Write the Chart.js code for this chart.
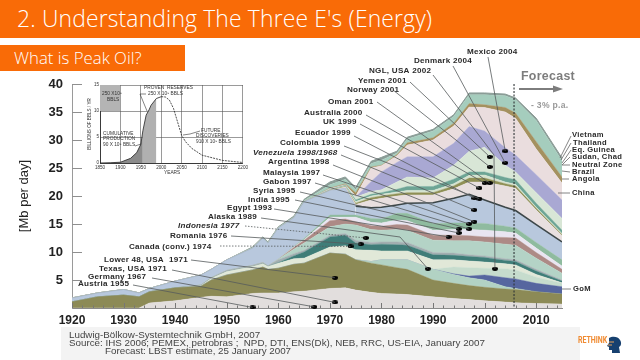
<!DOCTYPE html>
<html><head><meta charset="utf-8">
<script src="https://cdn.jsdelivr.net/npm/chart.js@4"></script>
<style>
html,body{margin:0;padding:0;background:#fff;width:640px;height:360px;overflow:hidden}
#page{position:relative;width:640px;height:360px;overflow:hidden}
.bar{position:absolute;left:0;background:#f96b07;color:#fff;font-family:"Open Sans",sans-serif;font-weight:300;white-space:nowrap}
#t1{top:0;width:640px;height:38px;line-height:37px;font-size:22.9px;padding-left:17px;box-sizing:border-box;letter-spacing:.15px}
#t2{top:45px;width:185px;height:26px;line-height:25px;font-size:16.8px;padding-left:14px;box-sizing:border-box}
#foot{position:absolute;left:61px;top:327px;width:519px;height:33px;background:#f3f3f3}
.f{position:absolute;font:9.8px "Liberation Sans",sans-serif;color:#444;white-space:pre}
canvas{position:absolute;left:0;top:0;filter:blur(.35px)}
#logo{position:absolute;left:578px;top:335px;font:bold 9px "Roboto",sans-serif;color:#f08a30;transform:scaleX(.78);transform-origin:0 0}
#head{position:absolute;left:606px;top:336px}
</style></head><body><div id="page">
<div id="foot"></div>
<canvas id="main" width="640" height="360"></canvas>
<canvas id="inset" width="165" height="102" style="left:85px;top:78px"></canvas>
<div class="bar" id="t1">2. Understanding The Three E's (Energy)</div>
<div class="bar" id="t2">What is Peak Oil?</div>
<div class="f" style="left:69px;top:329px">Ludwig-Bölkow-Systemtechnik GmbH, 2007</div>
<div class="f" style="left:69px;top:337px">Source: IHS 2006; PEMEX, petrobras ;  NPD, DTI, ENS(Dk), NEB, RRC, US-EIA, January 2007</div>
<div class="f" style="left:105px;top:345px">Forecast: LBST estimate, 25 January 2007</div>
<div id="logo">RETHINK</div>
<svg id="head" width="18" height="18" viewBox="0 0 18 18"><path d="M3 2 C6 0 12 0 14 4 C16 7 15 10 13 11 L14 17 L6 17 L6 14 L3 14 L3 11 L1 10 L3 7 Z" fill="#17406f"/><path d="M3 6 H8 M2 9 H6" stroke="#e8a15a" stroke-width="1"/></svg>
<script>
// ---------- main chart data (Mb per day, upper edge of each band) ----------
const years = [1920,1925,1930,1933,1935,1940,1945,1947,1950,1955,1957,1958,1960,1963,1965,1970,1973,1975,1978,1980,1983,1985,1990,1994,1997,2000,2004,2006,2010,2015];
const bandGrey     = [0,0,0,0,.9,1.3,1.9,2.1,2,2.6,2.7,2.7,2.7,2.9,3,3.5,3.6,3.2,2.8,2.6,2.5,2.4,2,1.7,1.5,1.3,1.05,.95,.8,.7];
const bandOlive    = [1.1,2,2.3,2,2.9,3.6,3.9,5,5.9,6.8,7.3,6.9,7.1,7.8,8,9.8,9.6,8.6,8,7.7,7.2,6.9,5,4.4,4,3.7,3.4,3.3,2.9,2.5];
const bandSeafoam  = [1.1,2,2.3,2,2.9,3.6,3.9,5,5.9,6.8,7.3,6.9,7.1,7.8,8,9.8,9.6,8.6,8.3,8.6,8.6,8.6,6.9,6,5.4,5,3.8,3.5,2.9,2.5];
const bandGoM      = [1.1,2,2.3,2,2.9,3.6,3.9,5,5.9,6.8,7.3,6.9,7.1,7.8,8,9.8,9.6,8.6,8.3,8.6,8.6,8.6,6.9,6.1,5.7,5.9,5.4,5.2,4.4,3.8];
const bandAboveGoM = [1.1,2,2.3,2,2.9,3.6,3.9,5,5.9,6.8,7.3,6.9,7.1,7.8,8,9.8,9.6,8.6,8.3,8.6,8.6,8.6,6.9,7.3,7.2,7.1,7,6.8,5.5,4.4];
const bandPale     = [1.1,2,2.3,2,2.9,3.6,4,5.3,6.5,7.4,7.9,7.4,8,8.8,8.9,10.9,11.1,10.4,10.3,10.2,10.2,10.2,8.6,8.6,8.4,8.2,7.9,7.7,6,4.5];
const bandTeal     = [1.1,2,2.3,2,2.9,3.6,4,5.3,6.5,7.4,7.9,7.4,8.1,9.3,10,12.7,13,11.6,11.3,11.4,11.3,11.2,9.5,9.4,9.2,9,8.5,8.3,6.6,4.8];
const bandGrayThin = [1.1,2,2.3,2,2.9,3.6,4.1,5.4,6.7,7.6,8.1,7.5,8.6,9.7,10.3,13,13.3,12.1,11.7,11.8,11.8,11.7,9.9,9.8,9.5,9.3,8.8,8.6,6.9,5];
const bandMint     = [1.1,2,2.3,2,2.9,3.6,4.1,5.4,6.7,7.6,8.1,7.5,8.7,10.5,11.6,14.5,15,14.8,14,13.9,14,13.9,12.1,12,12,11.8,11.4,11.2,8.9,6.2];
const bandMauve    = [1.1,2,2.3,2,2.9,3.6,4.1,5.4,6.7,7.6,8.1,7.5,8.7,10.8,12.1,15.6,15.9,15.4,14.7,14.6,14.9,14.8,13,13,12.9,12.7,12.6,12.5,9.9,6.9];
const bandWhite    = [1.1,2,2.3,2,2.9,3.6,4.1,5.4,6.7,7.6,8.1,7.5,8.7,10.9,12.2,16.2,16.2,16.2,15.3,15.2,15.7,15.6,13.9,14,14,13.9,13.6,13.4,10.7,7.5];
const bandGreen    = [1.1,2,2.3,2,2.9,3.6,4.1,5.4,6.7,7.6,8.1,7.5,8.7,11,12.4,16.6,16.6,16.6,16,15.9,16.9,16.9,15.1,15.2,15.2,15.1,14.6,14.3,11.7,8.6];
const bandSteel    = [1.8,2.7,3.3,2.7,3.5,4.8,5.9,6.9,8.6,10.7,12.5,11.6,14.3,16.1,19,21,21.4,18.2,17.9,18,18.4,18.7,18.8,19.6,20.3,19.3,18,17.4,14.9,11.8];
const bandChina    = [1.8,2.7,3.3,2.7,3.5,4.8,5.9,6.9,8.6,10.7,12.5,11.6,14.3,16.1,19,21,21.6,18.5,19.3,19.6,20,20.2,20.2,21.3,22.5,22.5,21.8,21.4,17.5,12.9];
const bandTan1     = [1.8,2.7,3.3,2.7,3.5,4.8,5.9,6.9,8.6,10.7,12.5,11.6,14.3,16.1,19,21.05,21.7,18.7,19.7,20,20.4,20.6,20.6,21.8,23.2,23.2,22.2,21.8,17.8,13.1];
const bandStrip    = [1.8,2.7,3.3,2.7,3.5,4.8,5.9,6.9,8.6,10.7,12.5,11.6,14.3,16.1,19,21.1,21.8,19,20,20.3,20.7,21,21,22.2,23.7,23.75,22.5,22.1,18,13.3];
const bandSeaLine  = [1.8,2.7,3.3,2.7,3.5,4.8,5.9,6.9,8.6,10.7,12.5,11.6,14.3,16.1,19,21.15,21.9,19.3,20.3,20.6,21.2,21.7,21.7,23,24.3,24.3,23.3,22.9,18.7,13.9];
const bandPaleTop  = [1.8,2.7,3.3,2.7,3.5,4.8,5.9,6.9,8.6,10.7,12.5,11.6,14.3,16.1,19,21.2,22,19.8,20.8,21.1,22.5,23.4,23.2,25.5,28,28.7,25.5,24.3,20.6,16];
const bandLilac    = [1.8,2.7,3.3,2.7,3.5,4.8,5.9,6.9,8.6,10.7,12.5,11.6,14.3,16.1,19,21.2,22,19.8,22.6,24.3,26,27,27,29.4,32.4,31.6,28.6,27.3,23.8,19.3];
const bandPink     = [1.8,2.7,3.3,2.7,3.5,4.8,5.9,6.9,8.6,10.7,12.5,11.6,14.3,16.1,19,21.3,22,20,25,25.4,27.2,29.1,30,32.5,35.9,35.8,35,33.9,28.4,22.3];
const bandTan2     = [1.8,2.7,3.3,2.7,3.5,4.8,5.9,6.9,8.6,10.7,12.5,11.6,14.3,16.1,19,21.4,22.2,20.6,25.2,25.5,27.4,29.5,30.4,33,36.5,36.3,35.8,34.8,29.7,23.4];
const bandTopGreen = [1.8,2.7,3.3,2.7,3.5,4.8,5.9,6.9,8.6,10.8,12.6,11.7,14.4,16.2,19.2,22,23,21.1,25.8,26.4,27.7,30.2,31.6,34.2,38.1,38.1,37.9,37.2,33.5,26.3];
const bandTotal    = [1.8,2.7,3.3,2.7,3.5,4.8,5.9,6.9,8.6,10.9,12.7,11.8,14.5,16.4,19.4,22.5,23.4,21.5,26.2,26.9,28,30.5,31.9,34.5,38.4,38.4,38.2,37.5,33.9,26.8];

const xTickLabels = [1920,1930,1940,1950,1960,1970,1980,1990,2000,2010];
const yTickLabels = [5,10,15,20,25,30,35,40];
const forecastYear = 2005.7;

const peakNames = ["Austria 1955","Germany 1967","Texas, USA 1971","Lower 48, USA  1971","Canada (conv.) 1974","Romania 1976","Indonesia 1977","Alaska 1989","Egypt 1993","India 1995","Syria 1995","Gabon 1997","Malaysia 1997","Argentina 1998","Venezuela 1998/1968","Colombia 1999","Ecuador 1999","UK 1999","Australia 2000","Oman 2001","Norway 2001","Yemen 2001","NGL, USA 2002","Denmark 2004","Mexico 2004"];
const peakYears = [1955,1967,1971,1971,1974,1976,1977,1989,1993,1995,1995,1997,1997,1998,1998,1999,1998,1999,2000,2001,2001,2001,2002,2004,2004];
const peakRates = [.1,.2,1,5.4,11,11.4,12.5,7,12.7,13.4,14.1,14.1,15,15.4,17.5,19.5,19.6,21.4,22.3,22.3,25.2,27,7,25.9,28];
const rightNames = ["Vietnam","Thailand","Eq. Guinea","Sudan, Chad","Neutral Zone","Brazil","Angola","China","GoM"];

// ---------- inset (Hubbert curve) data ----------
const insetYears = [1850,1875,1900,1925,1940,1950,1955,1963,1970,1975,1988,2000,2010,2020,2030,2040,2050,2060,2075,2100,2150,2200];
const insetRate  = [0,.05,.15,.9,2,3.6,6.2,9.2,10.2,11.1,12.4,12.75,12.7,12.1,10.5,7.9,5.3,4.05,2.8,1.5,.5,.1];
const insetXTicks = [1850,1900,1950,2000,2050,2100,2150,2200];
const insetYTicks = [0,5,10,15];

// ---------- layout/style tables ----------
const bandStack = [
 [bandGrey,'#e2dedd'],[bandOlive,'#8c8a56'],[bandSeafoam,'#b2d2c4'],[bandGoM,'#56669f'],[bandAboveGoM,'#c6dccd'],
 [bandPale,'#e1e8d8'],[bandTeal,'#3f7d78'],[bandGrayThin,'#a2aeb0'],[bandMint,'#b4d3c6'],[bandMauve,'#ad8a86'],
 [bandWhite,'#e9e5f1'],[bandGreen,'#8fbb9f'],[bandSteel,'#b8c8dd'],[bandChina,'#e8dfdf'],[bandTan1,'#8f9055'],
 [bandStrip,'#d5e3d0'],[bandSeaLine,'#6da595'],[bandPaleTop,'#d8e6d6'],[bandLilac,'#a9a8d3'],[bandPink,'#eaddde'],
 [bandTan2,'#a4915f'],[bandTopGreen,'#a5cdbd'],[bandTotal,'#8a9c96']
];
const labelLayout = [
 [78,284,133,285],[88,277,152,278],[99,269,172,270],[104,260,191,260],[129,247,220,246,0,1],[170,236,231,236],[178,226,245,226,1,1],
 [208,217,261,218,0,0,[400,237]],[227,208,274,209],[248,200,295,200],[253,191,300,192],[263,182,315,183],[263,173,323,175],[268,162,333,165],
 [253,153,341,155,1],[280,143,344,146],[295,133,354,136],[323,122,360,124],[304,113,366,115],[328,102,377,102],[347,90,393,90],[358,81,410,82],
 [369,71,433,75,0,0,[494,155]],[414,61,453,66],[467,52,488,57]
];
const rightLayout = [[572,135,571,136,560,158],[573,143,571,143,561,160],[572,150,571,150,562,163],[572,157,570,157,562,165],[572,165,570,165,562,165],[572,172,570,172,562,171],[572,179,569,179,562,179],[572,193,570,193,558,193],[573,289,571,289,562,289]];

const oval = document.createElement('canvas'); oval.width=6; oval.height=4;
{const c=oval.getContext('2d'); c.fillStyle='#000'; c.beginPath(); c.ellipse(3,2,3,1.9,0,0,7); c.fill();}

const annotate = {
 id:'annotate',
 afterDatasetsDraw(chart){
  const {ctx,scales:{x,y},chartArea:a}=chart;
  ctx.save();
  // inward axis ticks
  ctx.strokeStyle='#8f8f8f'; ctx.lineWidth=1;
  yTickLabels.forEach(v=>{const p=Math.round(y.getPixelForValue(v))+.5;ctx.beginPath();ctx.moveTo(a.left,p);ctx.lineTo(a.left+10,p);ctx.stroke();});
  ctx.strokeStyle='#777';
  for(let yr=1920;yr<=2014;yr+=2){const p=Math.round(x.getPixelForValue(yr))+.5,h=(yr%10===0)?5:2.5;ctx.beginPath();ctx.moveTo(p,a.bottom);ctx.lineTo(p,a.bottom-h);ctx.stroke();}
  // leaders and peak labels
  ctx.textBaseline='middle';ctx.textAlign='left';
  peakNames.forEach((n,i)=>{
    const [lx,ly,sx,sy,ital,dotted,bend]=labelLayout[i];
    ctx.strokeStyle='#555a5c';ctx.lineWidth=.8;ctx.setLineDash(dotted?[1.5,1.5]:[]);
    ctx.beginPath();ctx.moveTo(sx,sy);if(bend)ctx.lineTo(bend[0],bend[1]);
    ctx.lineTo(x.getPixelForValue(peakYears[i]),y.getPixelForValue(peakRates[i]));ctx.stroke();ctx.setLineDash([]);
    ctx.fillStyle='#2a2a2a';ctx.letterSpacing='.25px';ctx.font=(ital?'italic ':'')+'bold 8.1px "Liberation Sans",sans-serif';
    ctx.fillText(n,lx,ly);
  });
  rightNames.forEach((n,i)=>{
    const [lx,ly,sx,sy,ex,ey]=rightLayout[i];
    ctx.strokeStyle='#666';ctx.lineWidth=.8;ctx.beginPath();ctx.moveTo(sx,sy);ctx.lineTo(ex,ey);ctx.stroke();
    ctx.fillStyle='#2a2a2a';ctx.letterSpacing='.35px';ctx.font='bold 7.6px "Liberation Sans",sans-serif';ctx.fillText(n,lx,ly);
  });
  // forecast
  ctx.letterSpacing='.3px';
  ctx.fillStyle='#7d7d7d';ctx.font='bold 12.4px "Liberation Sans",sans-serif';ctx.fillText('Forecast',521,77);
  ctx.font='bold 8.6px "Liberation Sans",sans-serif';ctx.fillStyle='#999';ctx.fillText('- 3% p.a.',531,106);
  ctx.letterSpacing='0px';
  ctx.fillStyle='#7d7d7d';ctx.beginPath();ctx.moveTo(519,88);ctx.lineTo(553,88);ctx.lineTo(553,85.5);ctx.lineTo(563,89);ctx.lineTo(553,92.5);ctx.lineTo(553,90);ctx.lineTo(519,90);ctx.closePath();ctx.fill();
  ctx.restore();
 }
};

const layerSets = bandStack.map(([vals,col],i)=>({
  type:'line',label:'band'+i,order:2,data:years.map((yr,k)=>({x:yr,y:vals[k]})),
  backgroundColor:col,borderColor:col,
  borderWidth:(i===bandStack.length-1)?1:.4,
  pointRadius:0,tension:0,fill:i===0?'origin':'-1',
  segment: vals===bandSteel ? {borderColor:c=>c.p0.parsed.x>=1975?'#3d4749':'#9fb0c6',borderWidth:c=>c.p0.parsed.x>=1975?1.6:.6} : undefined
}));

new Chart(document.getElementById('main'),{
 type:'line',
 data:{datasets:[
  {type:'line',label:'forecast',order:0,data:[{x:forecastYear,y:40},{x:forecastYear,y:0}],borderColor:'#2f3436',borderWidth:1.1,borderDash:[2,1.5],pointRadius:0,fill:false,clip:false},
  {type:'scatter',label:'peaks',order:1,data:peakYears.map((yr,i)=>({x:yr,y:peakRates[i]})),pointStyle:oval,backgroundColor:'#000',fill:false,clip:false,showLine:false},
  ...layerSets
 ]},
 plugins:[annotate],
 options:{
  responsive:false,animation:false,devicePixelRatio:1,
  layout:{padding:{left:0,right:78,top:84,bottom:0}},
  plugins:{legend:{display:false},tooltip:{enabled:false}},
  scales:{
   x:{type:'linear',min:1920,max:2015,
      grid:{display:false,drawTicks:false},border:{display:true,color:'#8a8a8a'},
      afterFit:s=>{s.height=52;},
      ticks:{stepSize:10,includeBounds:false,maxRotation:0,autoSkip:false,padding:5,color:'#222',font:{family:'"Liberation Sans"',weight:'bold',size:12},
        callback:v=>xTickLabels.includes(v)?String(v):''}},
   y:{type:'linear',min:0,max:40,
      grid:{display:false,drawTicks:false},border:{display:true,color:'#9a9a9a'},
      afterFit:s=>{s.width=72;},
      title:{display:true,text:'[Mb per day]',color:'#222',font:{family:'"Liberation Sans"',size:13},padding:{top:17,bottom:0}},
      ticks:{stepSize:5,includeBounds:false,padding:9,color:'#222',font:{family:'"Liberation Sans"',weight:'bold',size:13},
        callback:v=>yTickLabels.includes(v)?String(v):''}}
  }
 }
});

// ---------- inset ----------
const insetNotes = {
 id:'insetNotes',
 afterDatasetsDraw(chart){
  const {ctx}=chart;
  ctx.save();
  ctx.fillStyle='#333';ctx.textBaseline='middle';ctx.textAlign='left';ctx.font='4.8px "Liberation Sans",sans-serif';
  const t=(s,px,py)=>ctx.fillText(s,px-85,py-78);
  t('250 X10⁹',102,94);t('BBLS',107,100);
  t('PROVEN  RESERVES',144,88);t('250 X 10⁹ BBLS',148,94);
  t('CUMULATIVE',103,134);t('PRODUCTION',103,139);t('90 X 10⁹ BBLS',103,145);
  t('FUTURE',201,131);t('DISCOVERIES',196,136);t('910 X 10⁹ BBLS',196,142);
  t('YEARS',164,173);
  ctx.strokeStyle='#333';ctx.lineWidth=.6;
  const ln=(p)=>{ctx.beginPath();p.forEach((q,i)=>i?ctx.lineTo(q[0]-85,q[1]-78):ctx.moveTo(q[0]-85,q[1]-78));ctx.stroke();};
  ln([[146,94],[140,94],[147,111]]);ln([[135,146],[141,144]]);ln([[200,131],[190,134],[183,135]]);
  ctx.restore();
 }
};
const xy=(lo,hi)=>insetYears.filter(v=>v>=lo&&v<=hi).map(v=>({x:v,y:insetRate[insetYears.indexOf(v)]}));
new Chart(document.getElementById('inset'),{
 type:'line',
 data:{datasets:[
  {label:'curve',data:xy(1850,2200),borderColor:'#222',borderWidth:.8,pointRadius:0,fill:false,segment:{borderDash:c=>c.p0.parsed.x>=2000?[2,1]:undefined}},
  {label:'cumulative',data:xy(1850,1955),borderWidth:0,pointRadius:0,fill:'origin',backgroundColor:'#8b8b8b'},
  {label:'reserves',data:xy(1955,1988),borderWidth:0,pointRadius:0,fill:'origin',backgroundColor:'#b0b0b0'},
  {label:'box',data:[{x:1850,y:15},{x:1900,y:15}],borderWidth:0,pointRadius:0,fill:{value:10},backgroundColor:'#b4b4b4'}
 ]},
 plugins:[insetNotes],
 options:{
  responsive:false,animation:false,devicePixelRatio:1,
  layout:{padding:{left:0,right:6,top:7,bottom:0}},
  plugins:{legend:{display:false},tooltip:{enabled:false}},
  scales:{
   x:{type:'linear',min:1850,max:2200,afterFit:s=>{s.height=17;},
      grid:{color:'#555',lineWidth:.6,drawTicks:false},border:{color:'#222',width:.8},
      afterBuildTicks:s=>{s.ticks=insetXTicks.map(v=>({value:v}));},
      ticks:{padding:2,maxRotation:0,autoSkip:false,color:'#333',font:{family:'"Liberation Sans"',size:4.6},callback:v=>String(v)}},
   y:{type:'linear',min:0,max:15,afterFit:s=>{s.width=15;},
      grid:{color:'#555',lineWidth:.6,drawTicks:false},border:{color:'#222',width:.8},
      afterBuildTicks:s=>{s.ticks=insetYTicks.map(v=>({value:v}));},
      title:{display:true,text:'BILLIONS OF BBLS / YR',color:'#333',font:{family:'"Liberation Sans"',size:4.6},padding:{top:2,bottom:0}},
      ticks:{padding:1,color:'#333',font:{family:'"Liberation Sans"',size:4.6}}}
  }
 }
});
</script>
</div></body></html>
